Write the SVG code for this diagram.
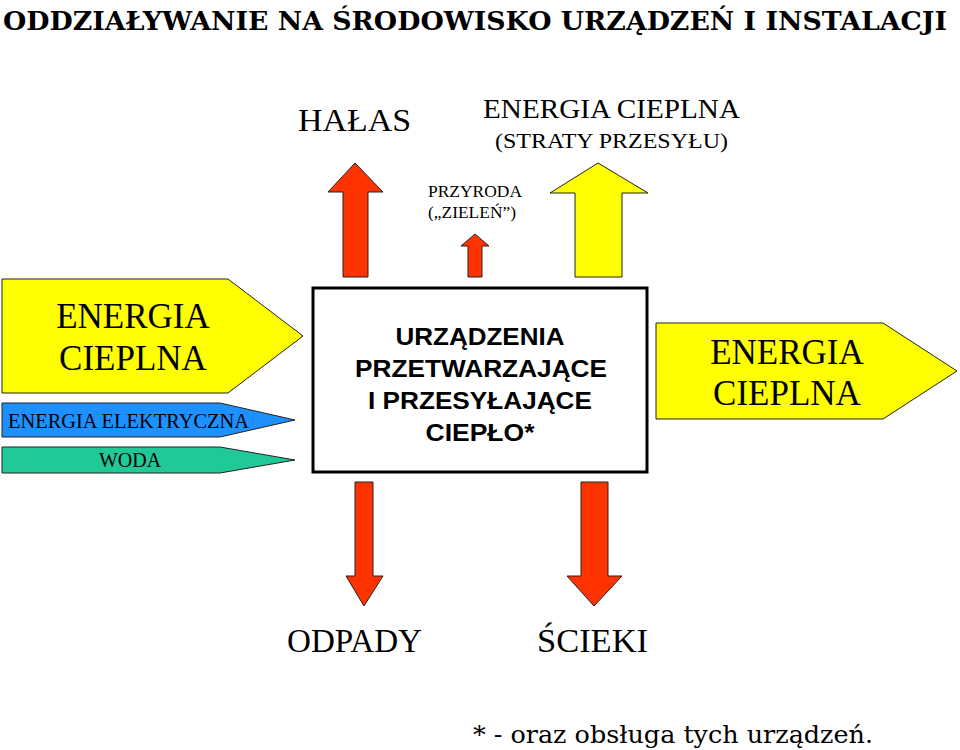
<svg xmlns="http://www.w3.org/2000/svg" width="960" height="750" viewBox="0 0 960 750">
<style>
.ser{font-family:"Liberation Serif","Times New Roman",serif;fill:#000}
.sans{font-family:"Liberation Sans",Arial,sans-serif;font-weight:bold;fill:#000}
.book{font-family:"DejaVu Serif",serif;fill:#000}
.arr{stroke:#222;stroke-width:1;stroke-linejoin:miter}
.yel{fill:#FFFF00}
.red{fill:#FF3300}
.blu{fill:#1E90FF}
.grn{fill:#20C997}
</style>
<rect width="960" height="750" fill="#fff"/>
<text class="book" x="3" y="30" font-size="26" font-weight="bold" textLength="944" lengthAdjust="spacingAndGlyphs">ODDZIAŁYWANIE NA ŚRODOWISKO URZĄDZEŃ I INSTALACJI</text>

<g id="halas">
<text class="ser" x="298" y="131" font-size="32" textLength="113" lengthAdjust="spacingAndGlyphs">HAŁAS</text>
</g>
<g id="energia-straty">
<text class="ser" x="483" y="118" font-size="28" textLength="257" lengthAdjust="spacingAndGlyphs">ENERGIA CIEPLNA</text>
<text class="ser" x="495" y="148" font-size="22" textLength="233" lengthAdjust="spacingAndGlyphs">(STRATY PRZESYŁU)</text>
</g>
<g id="przyroda">
<text class="ser" x="475" y="197" font-size="17" text-anchor="middle" textLength="94" lengthAdjust="spacingAndGlyphs">PRZYRODA</text>
<text class="ser" x="472" y="218" font-size="17" text-anchor="middle" textLength="88" lengthAdjust="spacingAndGlyphs">(„ZIELEŃ”)</text>
</g>

<g id="connectors">
<polygon class="arr red" points="343,277 343,192 328,192 355,163 383,192 368,192 368,277"/>
<polygon class="arr red" points="468,277 468,246 461,246 475,234 489,246 482,246 482,277"/>
<polygon class="arr yel" points="575,277 575,193 550,193 598,163 648,193 622,193 622,277"/>
<polygon class="arr red" points="355,482 373,482 373,576 383,576 364,606 346,576 355,576"/>
<polygon class="arr red" points="581,482 608,482 608,576 622,576 594,606 567,576 581,576"/>
</g>

<g id="in-energia">
<polygon class="arr yel" points="2,279 228,279 303,336 228,393 2,393"/>
<text class="ser" x="133" y="328" font-size="35" text-anchor="middle">ENERGIA</text>
<text class="ser" x="133" y="370" font-size="35" text-anchor="middle">CIEPLNA</text>
</g>
<g id="in-elektr">
<polygon class="arr blu" points="2,403 220,403 295,420 220,437 2,437"/>
<text class="ser" x="8" y="428" font-size="20" textLength="241" lengthAdjust="spacingAndGlyphs">ENERGIA ELEKTRYCZNA</text>
</g>
<g id="in-woda">
<polygon class="arr grn" points="2,447 220,447 295,460 220,473 2,473"/>
<text class="ser" x="130" y="467" font-size="20" text-anchor="middle">WODA</text>
</g>

<g id="urzadzenia">
<rect x="313" y="288" width="334" height="184" fill="#fff" stroke="#000" stroke-width="3"/>
<text class="sans" x="480" y="345" font-size="23" text-anchor="middle" textLength="169" lengthAdjust="spacingAndGlyphs">URZĄDZENIA</text>
<text class="sans" x="481" y="377" font-size="23" text-anchor="middle" textLength="252" lengthAdjust="spacingAndGlyphs">PRZETWARZAJĄCE</text>
<text class="sans" x="480" y="409" font-size="23" text-anchor="middle" textLength="224" lengthAdjust="spacingAndGlyphs">I PRZESYŁAJĄCE</text>
<text class="sans" x="480" y="441" font-size="23" text-anchor="middle" textLength="109" lengthAdjust="spacingAndGlyphs">CIEPŁO*</text>
</g>

<g id="out-energia">
<polygon class="arr yel" points="656,323 883,323 957,371 883,419 656,419"/>
<text class="ser" x="787" y="364" font-size="35" text-anchor="middle">ENERGIA</text>
<text class="ser" x="787" y="405" font-size="35" text-anchor="middle">CIEPLNA</text>
</g>

<g id="odpady">
<text class="ser" x="287" y="652" font-size="33" textLength="135" lengthAdjust="spacingAndGlyphs">ODPADY</text>
</g>
<g id="scieki">
<text class="ser" x="537" y="652" font-size="33" textLength="111" lengthAdjust="spacingAndGlyphs">ŚCIEKI</text>
</g>

<text class="book" x="473" y="743" font-size="24" textLength="400" lengthAdjust="spacingAndGlyphs">* - oraz obsługa tych urządzeń.</text>
</svg>
